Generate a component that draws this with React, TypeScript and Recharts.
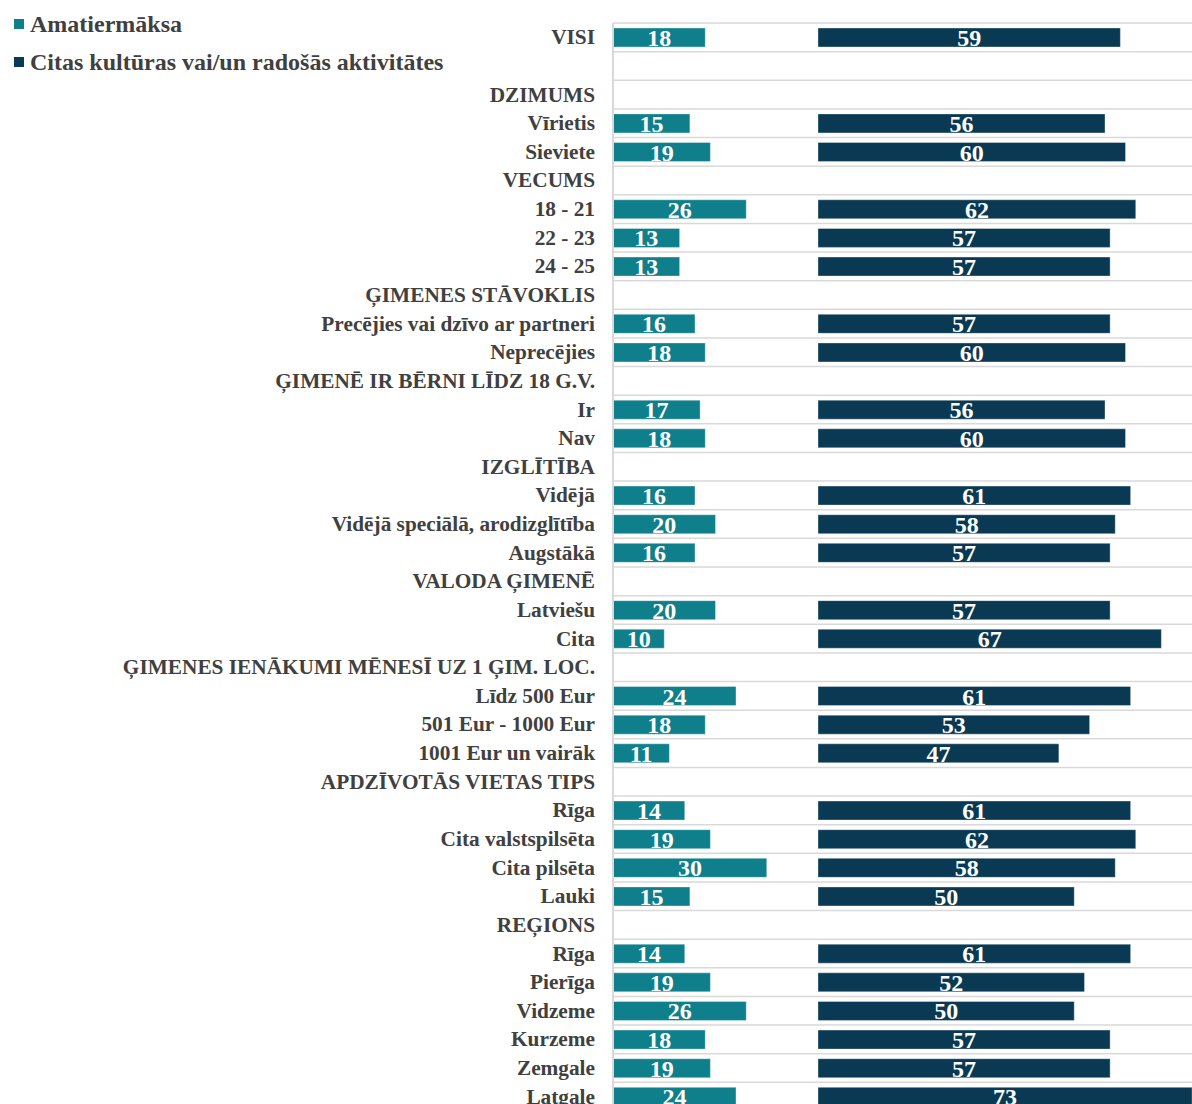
import React from "react";
import { Bar, BarChart, CartesianGrid, LabelList, XAxis, YAxis } from "recharts";

const categories = [
  "VISI",
  "",
  "DZIMUMS",
  "Vīrietis",
  "Sieviete",
  "VECUMS",
  "18 - 21",
  "22 - 23",
  "24 - 25",
  "ĢIMENES STĀVOKLIS",
  "Precējies vai dzīvo ar partneri",
  "Neprecējies",
  "ĢIMENĒ IR BĒRNI LĪDZ 18 G.V.",
  "Ir",
  "Nav",
  "IZGLĪTĪBA",
  "Vidējā",
  "Vidējā speciālā, arodizglītība",
  "Augstākā",
  "VALODA ĢIMENĒ",
  "Latviešu",
  "Cita",
  "ĢIMENES IENĀKUMI MĒNESĪ UZ 1 ĢIM. LOC.",
  "Līdz 500 Eur",
  "501 Eur - 1000 Eur",
  "1001 Eur un vairāk",
  "APDZĪVOTĀS VIETAS TIPS",
  "Rīga",
  "Cita valstspilsēta",
  "Cita pilsēta",
  "Lauki",
  "REĢIONS",
  "Rīga",
  "Pierīga",
  "Vidzeme",
  "Kurzeme",
  "Zemgale",
  "Latgale",
];

const amatiermaksa = [
  18, null, null, 15, 19, null, 26, 13, 13, null, 16, 18, null, 17, 18, null, 16, 20, 16,
  null, 20, 10, null, 24, 18, 11, null, 14, 19, 30, 15, null, 14, 19, 26, 18, 19, 24,
];

const citasAktivitates = [
  59, null, null, 56, 60, null, 62, 57, 57, null, 57, 60, null, 56, 60, null, 61, 58, 57,
  null, 57, 67, null, 61, 53, 47, null, 61, 62, 58, 50, null, 61, 52, 50, 57, 57, 73,
];

const seriesNames = ["Amatiermāksa", "Citas kultūras vai/un radošās aktivitātes"];
const seriesColors = ["#0f808b", "#0a3a53"];

// second block of bars starts at the same offset on every row
const secondBlockStart = 40;

const data = categories.map((name, i) => {
  const a = amatiermaksa[i];
  return {
    name,
    amatiermaksa: a,
    gap: a == null ? null : secondBlockStart - a,
    citas: citasAktivitates[i],
  };
});

const FONT = "'Liberation Serif', 'Times New Roman', serif";

const CategoryTick = (props: any) => {
  const { x, y, payload } = props;
  return (
    <text
      x={x}
      y={y}
      textAnchor="end"
      dominantBaseline="central"
      fill="#404040"
      fontFamily={FONT}
      fontWeight="bold"
      fontSize={21.3}
    >
      {payload.value}
    </text>
  );
};

const rowLines = (props: any) => {
  const off = props.offset || {};
  const top = off.top ?? 23;
  const height = off.height ?? 1088;
  const n = categories.length;
  return Array.from({ length: n + 1 }, (_, i) => top + (i * height) / n);
};

export default function App() {
  return (
    <div
      style={{
        position: "fixed",
        left: 0,
        top: 0,
        width: 1192,
        height: 1104,
        overflow: "hidden",
        background: "#fff",
        fontFamily: FONT,
      }}
    >
      <div style={{ position: "absolute", left: 14, top: 9, zIndex: 2 }}>
        {seriesNames.map((s, i) => (
          <div
            key={s}
            style={{
              display: "flex",
              alignItems: "center",
              height: 30,
              marginBottom: i === 0 ? 8 : 0,
              color: "#404040",
              fontWeight: "bold",
              fontSize: 24,
              whiteSpace: "nowrap",
            }}
          >
            <span
              style={{
                display: "inline-block",
                width: 10,
                height: 10,
                background: seriesColors[i],
                marginRight: 6,
              }}
            />
            {s}
          </div>
        ))}
      </div>
      <BarChart
        layout="vertical"
        width={1228}
        height={1112}
        data={data}
        margin={{ top: 23, right: 0, bottom: 1, left: 0 }}
      >
        <CartesianGrid
          vertical={false}
          stroke="#d9d9d9"
          strokeWidth={1.5}
          horizontalCoordinatesGenerator={rowLines}
        />
        <XAxis type="number" domain={[0, 120]} hide />
        <YAxis
          type="category"
          dataKey="name"
          width={613}
          interval={0}
          tickLine={false}
          tickSize={0}
          tickMargin={18}
          axisLine={{ stroke: "#d9d9d9", strokeWidth: 2 }}
          tick={<CategoryTick />}
        />
        <Bar
          dataKey="amatiermaksa"
          name={seriesNames[0]}
          stackId="s"
          fill={seriesColors[0]}
          stroke="#ffffff"
          strokeOpacity={0.35}
          barSize={19}
          isAnimationActive={false}
        >
          <LabelList
            dataKey="amatiermaksa"
            position="center"
            fill="#ffffff"
            fontFamily={FONT}
            fontWeight="bold"
            fontSize={24}
          />
        </Bar>
        <Bar
          dataKey="gap"
          stackId="s"
          fill="transparent"
          legendType="none"
          barSize={19}
          isAnimationActive={false}
        />
        <Bar
          dataKey="citas"
          name={seriesNames[1]}
          stackId="s"
          fill={seriesColors[1]}
          stroke="#ffffff"
          strokeOpacity={0.35}
          barSize={19}
          isAnimationActive={false}
        >
          <LabelList
            dataKey="citas"
            position="center"
            fill="#ffffff"
            fontFamily={FONT}
            fontWeight="bold"
            fontSize={24}
          />
        </Bar>
      </BarChart>
    </div>
  );
}
